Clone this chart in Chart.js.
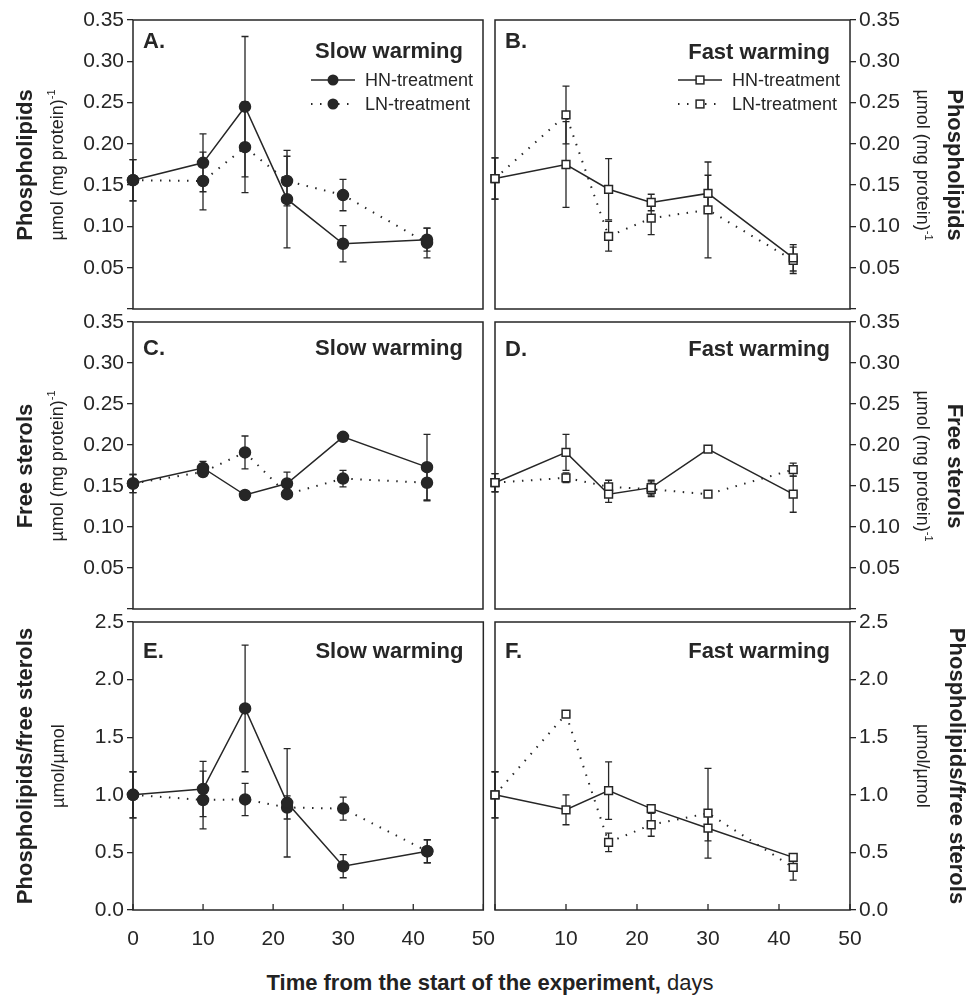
<!DOCTYPE html>
<html><head><meta charset="utf-8">
<script src="https://cdn.jsdelivr.net/npm/chart.js@4.4.1/dist/chart.umd.min.js"></script>
<style>
html,body{margin:0;padding:0;background:#fff}
body{width:971px;height:995px;position:relative;overflow:hidden;font-family:"Liberation Sans",Arial,sans-serif;color:#222}
canvas{position:absolute}
.yt{position:absolute;white-space:nowrap;line-height:1}
.yl{transform:translate(-50%,-50%) rotate(-90deg)}
.yr{transform:translate(-50%,-50%) rotate(90deg)}
.b{font-weight:bold;font-size:22px}
.r{font-size:18px}
.r sup{font-size:11px;vertical-align:8px}
#xt{position:absolute;left:490px;top:983px;transform:translate(-50%,-50%);white-space:nowrap;font-size:22px}
</style></head><body>
<canvas id="cA" width="478" height="329" style="left:30px;top:0px;width:478px;height:329px"></canvas>
<canvas id="cB" width="480" height="329" style="left:470px;top:0px;width:480px;height:329px"></canvas>
<canvas id="cC" width="478" height="327" style="left:30px;top:302px;width:478px;height:327px"></canvas>
<canvas id="cD" width="480" height="327" style="left:470px;top:302px;width:480px;height:327px"></canvas>
<canvas id="cE" width="482" height="358" style="left:30px;top:602px;width:482px;height:358px"></canvas>
<canvas id="cF" width="480" height="358" style="left:470px;top:602px;width:480px;height:358px"></canvas>

<div class="yt yl b" style="left:25px;top:165px">Phospholipids</div>
<div class="yt yl r" style="left:56px;top:165px">µmol (mg protein)<sup>-1</sup></div>
<div class="yt yl b" style="left:25px;top:466px">Free sterols</div>
<div class="yt yl r" style="left:56px;top:466px">µmol (mg protein)<sup>-1</sup></div>
<div class="yt yl b" style="left:25px;top:766px">Phospholipids/free sterols</div>
<div class="yt yl r" style="left:58px;top:766px">µmol/µmol</div>

<div class="yt yr b" style="left:955px;top:165px">Phospholipids</div>
<div class="yt yr r" style="left:924px;top:165px">µmol (mg protein)<sup>-1</sup></div>
<div class="yt yr b" style="left:955px;top:466px">Free sterols</div>
<div class="yt yr r" style="left:924px;top:466px">µmol (mg protein)<sup>-1</sup></div>
<div class="yt yr b" style="left:957px;top:766px">Phospholipids/free sterols</div>
<div class="yt yr r" style="left:923px;top:766px">µmol/µmol</div>

<div id="xt"><b>Time from the start of the experiment,</b> days</div>

<script>
// ---- data ----
const days = [0, 10, 16, 22, 30, 42];
const xTicks = [0, 10, 20, 30, 40, 50];

// A: phospholipids, slow warming
const hnA    = [0.156, 0.177, 0.245, 0.133, 0.079, 0.084];
const hnAerr = [0.025, 0.035, 0.085, 0.059, 0.022, 0.014];
const lnA    = [0.156, 0.155, 0.196, 0.155, 0.138, 0.080];
const lnAerr = [0.025, 0.035, 0.055, 0.030, 0.019, 0.018];
// B: phospholipids, fast warming
const hnB    = [0.158, 0.175, 0.145, 0.129, 0.140, 0.062];
const hnBerr = [0.025, 0.052, 0.037, 0.010, 0.022, 0.016];
const lnB    = [0.158, 0.235, 0.088, 0.110, 0.120, 0.059];
const lnBerr = [0.025, 0.035, 0.018, 0.020, 0.058, 0.016];
// C: free sterols, slow warming
const hnC    = [0.153, 0.172, 0.139, 0.153, 0.210, 0.173];
const hnCerr = [0.011, 0.008, 0, 0.014, 0, 0.040];
const lnC    = [0.153, 0.167, 0.191, 0.140, 0.159, 0.154];
const lnCerr = [0.011, 0.005, 0.020, 0, 0.010, 0.022];
// D: free sterols, fast warming
const hnD    = [0.154, 0.191, 0.140, 0.148, 0.195, 0.140];
const hnDerr = [0.011, 0.022, 0.010, 0.009, 0, 0.022];
const lnD    = [0.154, 0.160, 0.149, 0.146, 0.140, 0.170];
const lnDerr = [0.011, 0.006, 0.008, 0.009, 0, 0.008];
// E: ratio, slow warming
const hnE    = [1.00, 1.05, 1.75, 0.93, 0.38, 0.51];
const hnEerr = [0.20, 0.24, 0.55, 0.47, 0.10, 0.10];
const lnE    = [1.00, 0.955, 0.96, 0.89, 0.88, 0.51];
const lnEerr = [0.20, 0.25, 0.14, 0.10, 0.10, 0.10];
// F: ratio, fast warming
const hnF    = [1.00, 0.87, 1.036, 0.88, 0.71, 0.457];
const hnFerr = [0.20, 0.13, 0.25, 0.03, 0.11, 0.03];
const lnF    = [1.00, 1.70, 0.587, 0.74, 0.84, 0.37];
const lnFerr = [0.20, 0, 0.08, 0.10, 0.39, 0.11];

const seriesNames = ['HN-treatment', 'LN-treatment'];

// ---- styling ----
const INK = '#262626';
const FONT = '"Liberation Sans", Arial, sans-serif';
Chart.defaults.font.family = FONT;
Chart.defaults.color = INK;

const errorBars = {
  id: 'errorBars',
  beforeDatasetsDraw(chart) {
    const {ctx, chartArea: a, scales: {x, y}} = chart;
    ctx.save();
    ctx.strokeStyle = INK; ctx.lineWidth = 1.5;
    ctx.strokeRect(a.left, a.top, a.right - a.left, a.bottom - a.top);
    ctx.lineWidth = 1.3;
    chart.data.datasets.forEach(ds => {
      if (!ds.errors) return;
      ds.data.forEach((p, i) => {
        const e = ds.errors[i]; if (!e) return;
        const px = x.getPixelForValue(p.x);
        const y1 = y.getPixelForValue(p.y + e), y2 = y.getPixelForValue(p.y - e);
        ctx.beginPath();
        ctx.moveTo(px, y1); ctx.lineTo(px, y2);
        ctx.moveTo(px - 3.5, y1); ctx.lineTo(px + 3.5, y1);
        ctx.moveTo(px - 3.5, y2); ctx.lineTo(px + 3.5, y2);
        ctx.stroke();
      });
    });
    if (chart.options.plugins.deco && chart.options.plugins.deco.xin) {
      ctx.lineWidth = 1.3;
      xTicks.forEach(v => {
        const px = x.getPixelForValue(v);
        ctx.beginPath(); ctx.moveTo(px, a.bottom); ctx.lineTo(px, a.bottom - 6); ctx.stroke();
      });
    }
    ctx.restore();
  }
};

function drawMarker(ctx, style, cx, cy) {
  ctx.lineWidth = 1.5; ctx.strokeStyle = INK;
  if (style === 'circle') {
    ctx.fillStyle = INK; ctx.beginPath(); ctx.arc(cx, cy, 5.5, 0, Math.PI * 2); ctx.fill();
  } else {
    ctx.fillStyle = '#fff'; ctx.fillRect(cx - 3.9, cy - 3.9, 7.8, 7.8); ctx.strokeRect(cx - 3.9, cy - 3.9, 7.8, 7.8);
  }
}

const deco = {
  id: 'deco',
  afterDatasetsDraw(chart) {
    const o = chart.options.plugins.deco; if (!o) return;
    const {ctx, chartArea: a} = chart;
    ctx.save();
    ctx.fillStyle = INK; ctx.textBaseline = 'alphabetic';
    ctx.font = 'bold 22px ' + FONT;
    ctx.textAlign = 'left'; ctx.fillText(o.letter, a.left + 10, a.top + o.lb);
    ctx.textAlign = 'right'; ctx.fillText(o.title, a.right - o.tr, a.top + o.tb);
    if (o.legend) {
      [0, 1].forEach(k => {
        const yy = a.top + (k === 0 ? 60 : 84);
        ctx.save();
        ctx.strokeStyle = INK;
        if (k === 0) { ctx.lineWidth = 1.5; ctx.setLineDash([]); }
        else { ctx.lineWidth = 2; ctx.setLineDash([1.5, 7.5]); }
        ctx.beginPath(); ctx.moveTo(a.right - 172, yy); ctx.lineTo(a.right - 128, yy); ctx.stroke();
        ctx.restore();
        drawMarker(ctx, o.style, a.right - 150, yy);
        ctx.fillStyle = INK; ctx.font = '18px ' + FONT;
        ctx.textAlign = 'left'; ctx.textBaseline = 'middle';
        ctx.fillText(seriesNames[k], a.right - 118, yy + 1);
      });
    }
    ctx.restore();
  }
};

function mk(id, cfg, target) {
  const isLeft = cfg.side === 'left';
  const pts = arr => days.map((d, i) => ({x: d, y: arr[i]}));
  const ds = (arr, err, dotted) => ({
    data: pts(arr), errors: err, clip: false,
    borderColor: INK, borderWidth: dotted ? 2 : 1.5,
    borderDash: dotted ? [1.5, 7.5] : [],
    pointStyle: cfg.style, pointRadius: cfg.style === 'circle' ? 5.5 : 5.5,
    pointBorderWidth: 1.5, pointBorderColor: INK,
    pointBackgroundColor: cfg.style === 'circle' ? INK : '#fff',
    tension: 0, fill: false
  });
  const canvas = document.getElementById(id);
  const chart = new Chart(canvas, {
    type: 'line',
    data: {datasets: [ds(cfg.hn, cfg.hnErr, false), ds(cfg.ln, cfg.lnErr, true)]},
    options: {
      responsive: false, maintainAspectRatio: false, animation: false, devicePixelRatio: 1,
      layout: {padding: {top: 20, bottom: cfg.bottom ? 0 : 20, left: isLeft ? 0 : 25, right: isLeft ? 25 : 0}},
      plugins: {legend: {display: false}, tooltip: {enabled: false},
        deco: {letter: cfg.letter, title: cfg.title, legend: cfg.legend, style: cfg.style,
               lb: cfg.lb, tb: cfg.tb, tr: 20, xin: cfg.bottom}},
      scales: {
        x: {type: 'linear', min: 0, max: 50, display: !!cfg.bottom,
            afterBuildTicks: s => { s.ticks = xTicks.map(v => ({value: v})); },
            afterFit: s => { if (cfg.bottom) s.height = 50; },
            grid: {display: false, drawTicks: false}, border: {display: false},
            ticks: {font: {size: 21}, color: INK, padding: 17, maxRotation: 0,
                    callback: v => (!isLeft && v === 0) ? '' : String(v)}},
        y: {type: 'linear', position: cfg.side, min: cfg.ymin, max: cfg.ymax,
            afterBuildTicks: s => { s.ticks = cfg.yTicks.map(v => ({value: v})); },
            afterFit: s => { s.width = isLeft ? 103 : 100; },
            grid: {display: true, drawOnChartArea: false, drawTicks: true, tickLength: 6, color: INK, lineWidth: 1.3},
            border: {display: false},
            ticks: {font: {size: 21}, color: INK, padding: 3,
                    callback: v => cfg.hideZero && v === 0 ? '' : v.toFixed(cfg.dec)}}
      }
    },
    plugins: [errorBars, deco]
  });
  // align plot area to the target rectangle [left, top, width, height]
  const [tx, ty, tw, th] = target;
  for (let k = 0; k < 3; k++) {
    const ca = chart.chartArea;
    const dw = tw - (ca.right - ca.left), dh = th - (ca.bottom - ca.top);
    if (Math.abs(dw) > 0.3 || Math.abs(dh) > 0.3) {
      const w = Math.round(chart.width + dw), h = Math.round(chart.height + dh);
      canvas.style.width = w + 'px'; canvas.style.height = h + 'px';
      chart.resize(w, h);
    }
  }
  const ca = chart.chartArea;
  canvas.style.left = (tx - ca.left) + 'px';
  canvas.style.top = (ty - ca.top) + 'px';
}

const concTicks = [0, 0.05, 0.10, 0.15, 0.20, 0.25, 0.30, 0.35];
const ratioTicks = [0, 0.5, 1.0, 1.5, 2.0, 2.5];

mk('cA', {side: 'left', style: 'circle', hn: hnA, hnErr: hnAerr, ln: lnA, lnErr: lnAerr, ymin: 0, ymax: 0.35, yTicks: concTicks, dec: 2, hideZero: true, letter: 'A.', title: 'Slow warming', legend: true, lb: 28, tb: 38}, [133, 20, 350, 289]);
mk('cB', {side: 'right', style: 'rect', hn: hnB, hnErr: hnBerr, ln: lnB, lnErr: lnBerr, ymin: 0, ymax: 0.35, yTicks: concTicks, dec: 2, hideZero: true, letter: 'B.', title: 'Fast warming', legend: true, lb: 28, tb: 39}, [495, 20, 355, 289]);
mk('cC', {side: 'left', style: 'circle', hn: hnC, hnErr: hnCerr, ln: lnC, lnErr: lnCerr, ymin: 0, ymax: 0.35, yTicks: concTicks, dec: 2, hideZero: true, letter: 'C.', title: 'Slow warming', legend: false, lb: 33, tb: 33}, [133, 322, 350, 287]);
mk('cD', {side: 'right', style: 'rect', hn: hnD, hnErr: hnDerr, ln: lnD, lnErr: lnDerr, ymin: 0, ymax: 0.35, yTicks: concTicks, dec: 2, hideZero: true, letter: 'D.', title: 'Fast warming', legend: false, lb: 34, tb: 34}, [495, 322, 355, 287]);
mk('cE', {side: 'left', style: 'circle', hn: hnE, hnErr: hnEerr, ln: lnE, lnErr: lnEerr, ymin: 0, ymax: 2.5, yTicks: ratioTicks, dec: 1, hideZero: false, letter: 'E.', title: 'Slow warming', legend: false, lb: 36, tb: 36, bottom: true}, [133, 622, 350, 288]);
mk('cF', {side: 'right', style: 'rect', hn: hnF, hnErr: hnFerr, ln: lnF, lnErr: lnFerr, ymin: 0, ymax: 2.5, yTicks: ratioTicks, dec: 1, hideZero: false, letter: 'F.', title: 'Fast warming', legend: false, lb: 36, tb: 36, bottom: true}, [495, 622, 355, 288]);
</script>
</body></html>
